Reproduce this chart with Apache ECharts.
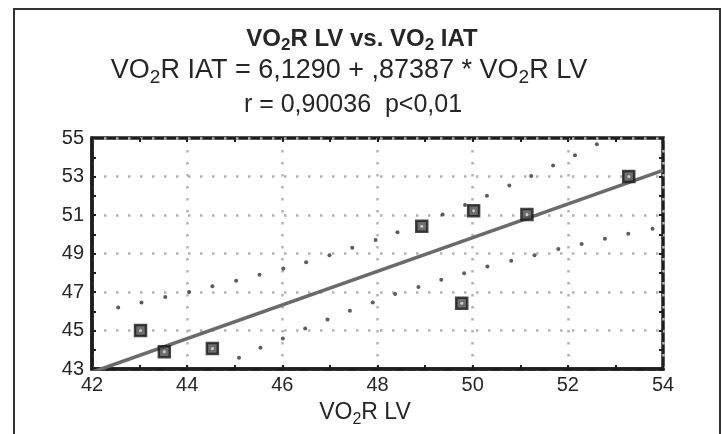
<!DOCTYPE html>
<html><head><meta charset="utf-8">
<script src="https://cdn.jsdelivr.net/npm/echarts@6/dist/echarts.min.js"></script>
<style>html,body{margin:0;padding:0;background:#fff}#c{width:722px;height:434px}</style>
</head><body><div id="c"></div>
<script>
// axis ranges and tick labels
const xRange = [42, 54];
const yRange = [43, 55];
const xTickLabels = [42, 44, 46, 48, 50, 52, 54];
const yTickLabels = [43, 45, 47, 49, 51, 53, 55];

// observed data (VO2R LV, VO2R IAT)
const lvValues  = [43.02, 43.52, 44.53, 48.93, 49.77, 50.02, 51.14, 53.28];
const iatValues = [45.00, 43.90, 44.07, 50.42, 46.42, 51.22, 51.02, 53.00];

// regression line end points
const fitLV  = [42, 54];
const fitIAT = [42.83, 53.32];

// dotted confidence band points
const upperLV  = [42.55, 43.04, 43.54, 44.04, 44.53, 45.03, 45.52, 46.02, 46.50, 46.99, 47.47, 47.96, 48.42, 49.37, 49.84, 50.30, 50.77, 51.23, 51.69, 52.15, 52.61];
const upperIAT = [46.20, 46.46, 46.74, 47.00, 47.30, 47.59, 47.90, 48.22, 48.55, 48.91, 49.30, 49.70, 50.11, 51.03, 51.52, 52.00, 52.53, 53.03, 53.57, 54.11, 54.67];
const lowerLV  = [45.09, 45.54, 46.01, 46.48, 46.95, 47.42, 47.90, 48.37, 48.86, 49.34, 49.82, 50.31, 50.81, 51.30, 51.80, 52.29, 52.78, 53.27, 53.78];
const lowerIAT = [43.59, 44.10, 44.58, 45.10, 45.57, 46.03, 46.46, 46.90, 47.26, 47.64, 47.97, 48.32, 48.62, 48.91, 49.23, 49.49, 49.77, 50.03, 50.29];

const zip = (a, b) => a.map((v, i) => [v, b[i]]);
const FONT = '"Liberation Sans", Arial, sans-serif';
const INK = '#262626';

const chart = echarts.init(document.getElementById('c'), null, {renderer: 'canvas'});

function richText(str, x, y, size, subSize, weight) {
  return {
    type: 'text', x: x, y: y, z: 10,
    style: {
      text: str,
      align: 'center', verticalAlign: 'middle',
      textAlign: 'center', textVerticalAlign: 'middle',
      rich: {
        m: {fontSize: size, fontFamily: FONT, fontWeight: weight, fill: INK, color: INK, lineHeight: size + 6, verticalAlign: 'middle'},
        s: {fontSize: subSize, fontFamily: FONT, fontWeight: weight, fill: INK, color: INK, lineHeight: subSize, verticalAlign: 'bottom'}
      }
    }
  };
}

const tickCommon = {show: true, inside: true, length: 4, lineStyle: {color: '#1e1e1e', width: 2}};
const minorCommon = {show: true, splitNumber: 2, length: 4, lineStyle: {color: '#1e1e1e', width: 2}};
const gridDots = {show: true, lineStyle: {color: '#b3b3b3', width: 2.5, type: [2.5, 9.5]}};

chart.setOption({
  backgroundColor: '#fff',
  animation: false,
  grid: {left: 92, right: 59, top: 138, bottom: 65, show: true, borderColor: '#1e1e1e', borderWidth: 3.5, backgroundColor: 'transparent'},
  xAxis: [{
    type: 'value', min: xRange[0], max: xRange[1], interval: 2,
    axisLine: {show: true, lineStyle: {color: '#1e1e1e', width: 3.5}},
    axisTick: tickCommon, minorTick: minorCommon,
    axisLabel: {fontSize: 20, fontFamily: FONT, color: INK, margin: 6,
      formatter: v => xTickLabels.includes(v) ? String(v) : ''},
    splitLine: gridDots
  }, {
    type: 'value', min: xRange[0], max: xRange[1], interval: 2, position: 'top',
    axisLine: {show: false}, axisTick: tickCommon, minorTick: minorCommon,
    axisLabel: {show: false}, splitLine: {show: false}
  }],
  yAxis: [{
    type: 'value', min: yRange[0], max: yRange[1], interval: 2,
    axisLine: {show: true, lineStyle: {color: '#1e1e1e', width: 3.5}},
    axisTick: tickCommon, minorTick: minorCommon,
    axisLabel: {fontSize: 20, fontFamily: FONT, color: INK, margin: 8,
      formatter: v => yTickLabels.includes(v) ? String(v) : ''},
    splitLine: gridDots
  }, {
    type: 'value', min: yRange[0], max: yRange[1], interval: 2, position: 'right',
    axisLine: {show: false}, axisTick: tickCommon, minorTick: minorCommon,
    axisLabel: {show: false}, splitLine: {show: false}
  }],
  series: [
    {type: 'scatter', data: zip(upperLV, upperIAT), symbol: 'circle', symbolSize: 4,
     itemStyle: {color: '#333'}, silent: true, z: 2},
    {type: 'scatter', data: zip(lowerLV, lowerIAT), symbol: 'circle', symbolSize: 4,
     itemStyle: {color: '#333'}, silent: true, z: 2},
    {type: 'line', data: zip(fitLV, fitIAT), symbol: 'none',
     lineStyle: {color: '#6a6a6a', width: 3.5}, z: 3},
    {type: 'scatter', data: zip(lvValues, iatValues), symbol: 'rect', symbolSize: 11,
     itemStyle: {color: '#4a4a4a', borderColor: '#1a1a1a', borderWidth: 2.5}, z: 4},
    {type: 'scatter', data: zip(lvValues, iatValues), symbol: 'circle', symbolSize: 3,
     itemStyle: {color: '#e6e6e6'}, z: 5}
  ],
  graphic: [
    {type: 'rect', shape: {x: 14, y: 9, width: 706, height: 440},
     style: {fill: 'none', stroke: '#333', lineWidth: 2}, z: 0},
    richText('{m|VO}{s|2}{m|R LV vs. VO}{s|2}{m| IAT}', 362, 39, 24, 17, 'bold'),
    richText('{m|VO}{s|2}{m|R IAT = 6,1290 + ,87387 * VO}{s|2}{m|R LV}', 349, 71, 27, 19, 'normal'),
    richText('{m|r = 0,90036  p<0,01}', 353, 105, 25, 18, 'normal'),
    richText('{m|VO}{s|2}{m|R LV}', 365, 413, 23, 16, 'normal')
  ]
});
</script>
</body></html>
